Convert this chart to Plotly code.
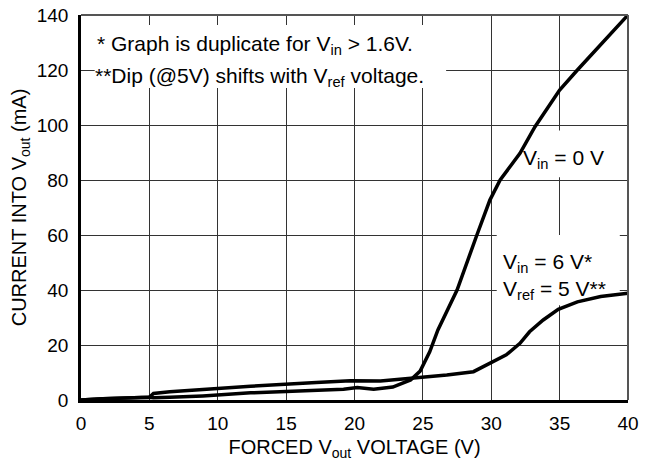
import plotly.graph_objects as go

# Vin = 0 V curve
vout_vin0 = [0, 1.6, 5, 5.3, 6.5, 8.9, 12.4, 14.8, 17.2, 19.2, 20.2, 21.4, 22.8, 24.1,
             24.8, 25.5, 26.1, 27.5, 28.95, 29.9, 30.65, 32.1, 33.2, 35.0, 36.3, 38.7, 40]
i_vin0 = [0, 0.5, 1.0, 0.8, 1.0, 1.5, 2.6, 3.0, 3.4, 3.9, 4.5, 3.9, 4.7, 7.3,
          10.5, 17.5, 25.5, 40, 60, 72.7, 80, 89.7, 99.4, 112.7, 120, 133, 140]

# Vin = 6 V, Vref = 5 V curve
vout_vin6 = [0, 1.6, 5, 5.3, 6.5, 8.9, 12.4, 17.2, 19.7, 21.9, 24.3, 26.75, 28.7, 29.9,
             31.1, 32.1, 32.8, 33.8, 34.9, 36.3, 38.0, 40]
i_vin6 = [0, 0.5, 1.0, 2.4, 3.0, 3.9, 5.0, 6.4, 7.0, 6.9, 7.9, 9.1, 10.3, 13.3,
          16.4, 20.6, 24.8, 29.1, 33.0, 35.7, 37.6, 38.8]

x_ticks = [0, 5, 10, 15, 20, 25, 30, 35, 40]
y_ticks = [0, 20, 40, 60, 80, 100, 120, 140]

FONT = "Liberation Sans, Arial, sans-serif"

fig = go.Figure()
fig.add_trace(go.Scatter(x=vout_vin0, y=i_vin0, mode="lines",
                         line=dict(color="black", width=3.5), showlegend=False))
fig.add_trace(go.Scatter(x=vout_vin6, y=i_vin6, mode="lines",
                         line=dict(color="black", width=3.5), showlegend=False))

# white boxes behind labels (cover gridlines but not curves)
boxes = [(1.0, 113.5, 26.7, 136.4), (32.2, 81.0, 38.6, 98.0), (30.4, 34.5, 39.4, 60.0)]
for x0, y0, x1, y1 in boxes:
    fig.add_shape(type="rect", xref="x", yref="y", x0=x0, y0=y0, x1=x1, y1=y1,
                  fillcolor="white", line=dict(width=0), layer="between")

# top and right borders
fig.add_shape(type="line", xref="paper", yref="paper", x0=0, x1=1, y0=1, y1=1,
              line=dict(color="#555", width=2), layer="above")
fig.add_shape(type="line", xref="paper", yref="paper", x0=1, x1=1, y0=0, y1=1,
              line=dict(color="#555", width=2), layer="above")

ann_font = dict(family=FONT, size=21, color="black")
anns = [
    (1.0, 129.0, "* Graph is duplicate for V<sub>in</sub> &gt; 1.6V."),
    (0.9, 117.6, "**Dip (@5V) shifts with V<sub>ref</sub> voltage."),
    (32.2, 87.5, "V<sub>in</sub> = 0 V"),
    (30.7, 50.0, "V<sub>in</sub> = 6 V*"),
    (30.7, 40.0, "V<sub>ref</sub> = 5 V**"),
]
for x, y, t in anns:
    fig.add_annotation(x=x, y=y, xref="x", yref="y", text=t, showarrow=False,
                       xanchor="left", yanchor="middle", font=ann_font)

fig.update_layout(
    width=653, height=466,
    margin=dict(l=73, r=33, t=7, b=74),
    paper_bgcolor="white", plot_bgcolor="white",
    font=dict(family=FONT, size=20, color="black"),
    xaxis=dict(range=[0, 40], tickvals=x_ticks, ticktext=[str(v) for v in x_ticks],
               showgrid=True, gridcolor="#333", gridwidth=1.2, zeroline=False,
               showline=True, linecolor="black", linewidth=2.5, ticks="",
               tickfont=dict(size=19), automargin=False, ticklabelstandoff=4,
               ticklabeloverflow="allow",
               title=dict(text="FORCED V<sub>out</sub> VOLTAGE (V)", font=dict(size=20), standoff=8)),
    yaxis=dict(range=[0, 140], tickvals=y_ticks, ticktext=[str(v) for v in y_ticks],
               showgrid=True, gridcolor="#333", gridwidth=1.2, zeroline=False,
               showline=True, linecolor="black", linewidth=2.5, ticks="",
               tickfont=dict(size=19), automargin=False, ticklabelstandoff=6,
               ticklabeloverflow="allow",
               title=dict(text="CURRENT INTO V<sub>out</sub> (mA)", font=dict(size=20), standoff=6)),
)

fig.write_html("out.html")
